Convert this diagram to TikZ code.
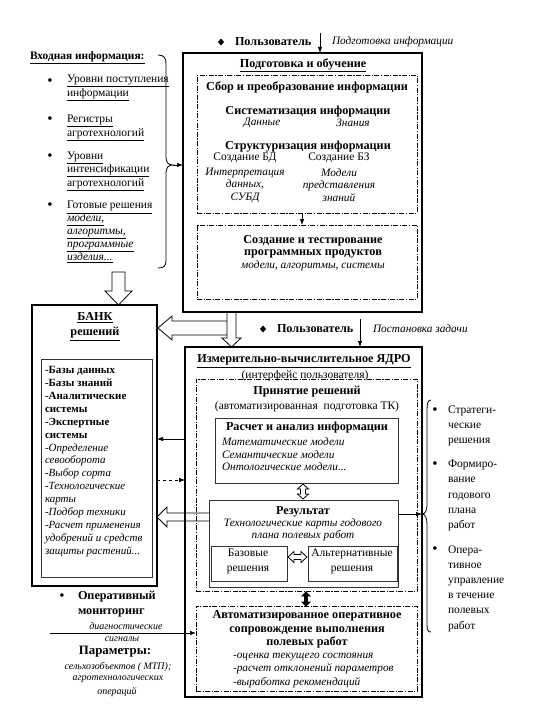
\documentclass[tikz,border=0pt]{standalone}
\usepackage{fontspec}
\setmainfont{Liberation Serif}
\usetikzlibrary{arrows.meta,calc}
\newcommand{\fs}[2]{\fontsize{#1}{#2}\selectfont}
\begin{document}
\begin{tikzpicture}[x=1pt,y=-1pt,
  tx/.style={inner sep=0pt, outer sep=0pt, font=\fs{11.5}{13}},
  tb/.style={tx, font=\fs{12.2}{13}\bfseries},
  ti/.style={tx, font=\fs{11.3}{13}\itshape},
  thickbox/.style={draw, line width=2.2pt, inner sep=0pt, outer sep=0pt},
  thinbox/.style={draw=black!80, line width=0.8pt, inner sep=0pt, outer sep=0pt},
  ddbox/.style={draw, line width=0.7pt, dash pattern=on 5pt off 1.5pt on 1.2pt off 1.5pt, inner sep=0pt, outer sep=0pt},
  arr/.style={line width=0.7pt, -{Latex[length=6pt,width=4.5pt]}},
  hollow/.style={draw, line width=0.8pt, line join=miter},
  bul/.style={inner sep=0pt, outer sep=0pt, font=\fs{15}{15}}
]
\useasboundingbox (0,0) rectangle (534,706);
\fill[white] (0,0) rectangle (534,706);

% ---------- boxes ----------
\node[thickbox, minimum width=239pt, minimum height=259pt] (topbox) at (302.5,182.5) {};
\node[ddbox, minimum width=220pt, minimum height=138pt] (d1) at (307,144) {};
\node[ddbox, minimum width=220pt, minimum height=74pt] (d2) at (307,262) {};
\node[thickbox, minimum width=125pt, minimum height=281pt] (bank) at (94.5,445.5) {};
\node[thinbox, minimum width=111pt, minimum height=218pt] (bankin) at (96.5,468) {};
\node[thickbox, minimum width=237pt, minimum height=350pt] (botbox) at (303.5,522) {};
\node[ddbox, minimum width=221pt, minimum height=212pt] (d3) at (306.5,485) {};
\node[thinbox, minimum width=183pt, minimum height=65pt] (rasch) at (306.5,450.5) {};
\node[thinbox, minimum width=189pt, minimum height=87pt] (res) at (303.5,543.5) {};
\node[thinbox, minimum width=76pt, minimum height=35pt] (baz) at (249,563.5) {};
\node[thinbox, minimum width=89pt, minimum height=35pt] (alt) at (352.5,563.5) {};
\node[ddbox, minimum width=221pt, minimum height=85pt] (d4) at (306.5,648.5) {};

% ---------- top user line ----------
\fill (221,38.5) -- (224,42) -- (221,45.5) -- (218,42) -- cycle;
\node[tb, anchor=west] (user1) at (235,42) {Пользователь};
\node[ti, anchor=west] (prep) at (332,42) {Подготовка информации};
\coordinate (u1) at (320,33);
\draw[arr] (u1) -- (u1 |- topbox.north);

% ---------- left input info ----------
\node[tb, anchor=west, font=\fs{11.4}{13}\bfseries] (inhead) at (30,58) {\underline{Входная информация:}};
\node[bul] (b1) at (50,82) {•};
\node[tx, anchor=west, align=left, font=\fs{11.5}{12}] (i1) at (67,88) {\underline{Уровни поступления}\\\underline{информации}};
\node[bul] (b2) at (50,120) {•};
\node[tx, anchor=west, align=left, font=\fs{11.5}{14}] (i2) at (67,127.5) {\underline{Регистры}\\\underline{агротехнологий}};
\node[bul] (b3) at (50,157) {•};
\node[tx, anchor=west, align=left, font=\fs{11.5}{13.5}] (i3) at (67,171) {\underline{Уровни}\\\underline{интенсификации}\\\underline{агротехнологий}};
\node[bul] (b4) at (50,206) {•};
\node[tx, anchor=west, align=left, font=\fs{11.5}{12.9}] (i4) at (67,232) {\underline{Готовые решения}\\\underline{\textit{модели,}}\\\underline{\textit{алгоритмы,}}\\\underline{\textit{программные}}\\\underline{\textit{изделия...}}};
\draw[line width=0.8pt] (158,55) .. controls (164,55) and (166,58) .. (166,64) -- (166,157) .. controls (166,162) and (168,165) .. (173,165) .. controls (168,165) and (166,168) .. (166,173) -- (166,260) .. controls (166,266) and (164,268) .. (158,268);
\coordinate (lbtip) at (173,165);
\draw[arr] (lbtip) -- (lbtip -| topbox.west);

% ---------- top box text ----------
\node[tb] (tophead) at (303,65) {\underline{Подготовка и обучение}};
\node[tb] (sbor) at (307,87) {Сбор и преобразование информации};
\node[tb] (sist) at (308,112) {Систематизация информации};
\node[ti] (dann) at (262,123) {Данные};
\node[ti] (znan) at (353,123) {Знания};
\node[tb] (strukt) at (308,147) {Структуризация информации};
\node[tx] (sozdbd) at (245,158) {Создание БД};
\node[tx] (sozdbz) at (339,158) {Создание БЗ};
\node[ti, align=center, font=\fs{11.3}{12.5}\itshape] (interp) at (245,185) {Интерпретация\\данных,\\СУБД};
\node[ti, align=center, font=\fs{11.3}{12.5}\itshape] (modrep) at (339,185) {Модели\\представления\\знаний};
\draw[arr] (d1.south -| 302,0) -- (d2.north -| 302,0);
\node[tb, align=center, font=\fs{12.2}{12.3}\bfseries] (sozdtest) at (313,246.5) {Создание и тестирование\\программных продуктов};
\node[ti] (mas) at (313,266) {модели, алгоритмы, системы};

% ---------- hollow arrows top ----------
\draw[hollow] (227,312) -- (227,338) -- (222,338) -- (231.5,347) -- (241,338) -- (236,338) -- (236,312);
\draw[hollow] (227,321) -- (172,321) -- (172,316) -- (158,328) -- (172,340) -- (172,335) -- (227,335);
\draw[hollow] (112,272) -- (112,291) -- (105,291) -- (118.5,305) -- (132,291) -- (125,291) -- (125,272) -- cycle;

% ---------- second user line ----------
\fill (263,325.5) -- (266,329) -- (263,332.5) -- (260,329) -- cycle;
\node[tb, anchor=west] (user2) at (277,329) {Пользователь};
\node[ti, anchor=west] (post) at (373,329) {Постановка задачи};
\coordinate (u2) at (360,319);
\draw[arr] (u2) -- (u2 |- botbox.north);

% ---------- bank ----------
\node[tb, align=center, font=\fs{12.2}{15}\bfseries] (bankhead) at (95,326.5) {\underline{БАНК}\\\underline{решений}};
\node[tx, anchor=west, align=left, font=\fs{11}{12.9}] (banklist) at (45,461.5) {\textbf{-Базы данных}\\\textbf{-Базы знаний}\\\textbf{-Аналитические}\\\textbf{системы}\\\textbf{-Экспертные}\\\textbf{системы}\\\textit{-Определение}\\\textit{севооборота}\\\textit{-Выбор сорта}\\\textit{-Технологические}\\\textit{карты}\\\textit{-Подбор техники}\\\textit{-Расчет применения}\\\textit{удобрений и средств}\\\textit{защиты растений...}};

% ---------- core ----------
\node[tb] (corehead) at (304,361) {\underline{Измерительно-вычислительное ЯДРО}};
\node[tx] (iface) at (305,376) {(интерфейс пользователя)};
\node[tb] (prin) at (307,392) {Принятие решений};
\node[tx] (auto) at (307,407) {(автоматизированная\ \ подготовка ТК)};
\node[tb] (raschh) at (307,428) {Расчет и анализ информации};
\node[ti, anchor=west, align=left, font=\fs{11.3}{12.5}\itshape] (models) at (222,454.5) {Математические модели\\Семантические модели\\Онтологические модели...};
\draw[hollow] (303,484) -- (308.5,489) -- (305.5,489) -- (305.5,494) -- (308.5,494) -- (303,499) -- (297.5,494) -- (300.5,494) -- (300.5,489) -- (297.5,489) -- cycle;
\node[tb] (resh) at (303,512) {Результат};
\node[ti, align=center, font=\fs{11.3}{12}\itshape] (tkg) at (303,530) {Технологические карты годового\\плана полевых работ};
\node[tx, align=center, font=\fs{11.5}{15}] (bazt) at (248,561.5) {Базовые\\решения};
\node[tx, align=center, font=\fs{11.5}{15}] (altt) at (352,561.5) {Альтернативные\\решения};
\draw[hollow] (288,557) -- (294,551.5) -- (294,554.5) -- (301,554.5) -- (301,551.5) -- (307,557) -- (301,562.5) -- (301,559.5) -- (294,559.5) -- (294,562.5) -- cycle;
\draw[hollow, fill=black] (306,592) -- (310,596) -- (307.5,596) -- (307.5,602) -- (310,602) -- (306,606) -- (302,602) -- (304.5,602) -- (304.5,596) -- (302,596) -- cycle;
\node[tb, align=center, font=\fs{12.2}{13.5}\bfseries] (aoc) at (307,629.5) {Автоматизированное оперативное\\сопровождение выполнения\\полевых работ};
\node[ti, anchor=west, align=left, font=\fs{11.3}{13.5}\itshape] (aoclist) at (233,670.5) {-оценка текущего состояния\\-расчет отклонений параметров\\-выработка рекомендаций};

% ---------- bank <-> core connectors ----------
\coordinate (c1) at (0,439);
\draw[arr] (botbox.west |- c1) -- (bank.east |- c1);
\coordinate (c2) at (0,480);
\draw[arr, dashed] (bank.east |- c2) -- (botbox.west |- c2);
\draw[hollow] (209,513) -- (167,513) -- (167,507) -- (157,517) -- (167,527) -- (167,521) -- (209,521);

% ---------- right brace ----------
\coordinate (rbtip) at (422,514);
\draw[arr] (res.east |- rbtip) -- (rbtip);
\draw[line width=0.8pt] (431,400) .. controls (428,400) and (427,403) .. (427,410) -- (427,505) .. controls (427,511) and (425,514) .. (422,514) .. controls (425,514) and (427,518) .. (427,524) -- (427,624) .. controls (427,630) and (428,632) .. (431,632);
\node[bul] (rb1) at (435,411) {•};
\node[tx, anchor=west, align=left, font=\fs{11.5}{15.2}] (r1) at (448,426) {Стратеги-\\ческие\\решения};
\node[bul] (rb2) at (435,465) {•};
\node[tx, anchor=west, align=left, font=\fs{11.5}{15.2}] (r2) at (448,495.5) {Формиро-\\вание\\годового\\плана\\работ};
\node[bul] (rb3) at (435,550) {•};
\node[tx, anchor=west, align=left, font=\fs{11.5}{15.2}] (r3) at (448,588.5) {Опера-\\тивное\\управление\\в течение\\полевых\\работ};

% ---------- bottom left ----------
\node[bul] (bm) at (62,597) {•};
\node[tb, anchor=west, align=left, font=\fs{12.2}{15}\bfseries] (opmon) at (78,604.5) {Оперативный\\мониторинг};
\node[ti, font=\fs{10}{12}\itshape] (diag) at (126,626) {диагностические};
\coordinate (dstart) at (50,633);
\draw[arr] (dstart) -- (dstart -| d4.west);
\node[ti, font=\fs{10}{12}\itshape] (sign) at (122,639) {сигналы};
\node[tb, font=\fs{12.8}{14}\bfseries] (param) at (115,652) {Параметры:};
\node[ti, font=\fs{10}{12}\itshape] (selh) at (118,667) {сельхозобъектов ( МТП);};
\node[ti, font=\fs{10}{12}\itshape] (agro) at (118,679) {агротехнологических};
\node[ti, font=\fs{10}{12}\itshape] (oper) at (117,692) {операций};
\end{tikzpicture}
\end{document}
